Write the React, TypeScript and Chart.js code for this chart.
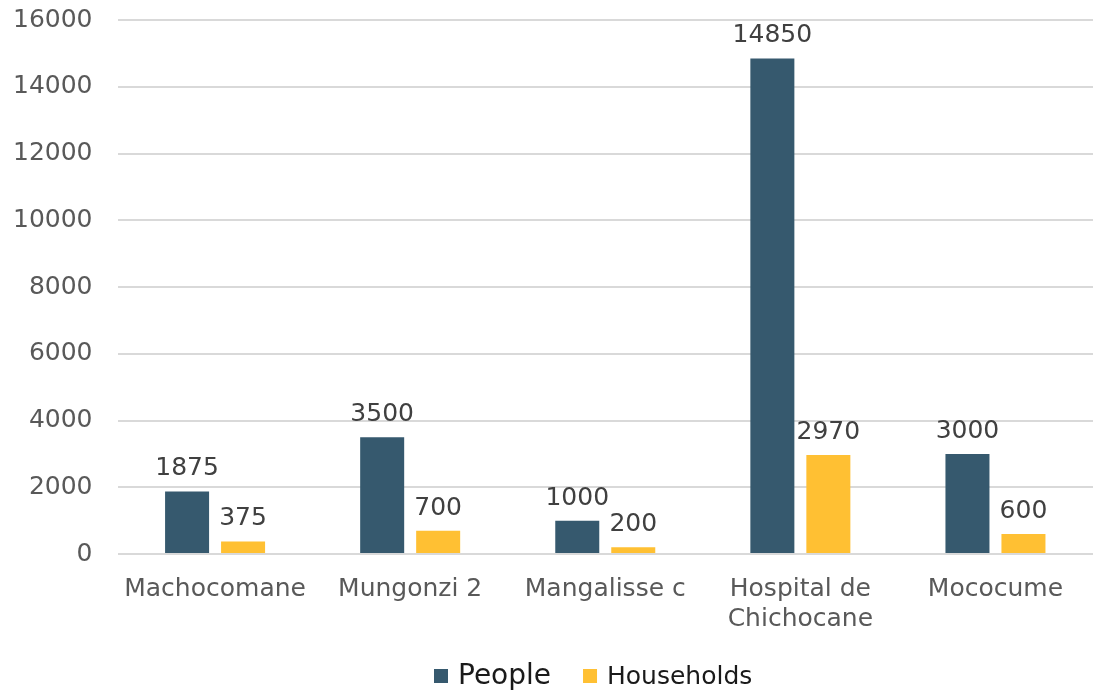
import React, { useEffect, useRef } from "react";
import { Chart, registerables } from "chart.js";

Chart.register(...registerables);

const categories: (string | string[])[] = [
  "Machocomane",
  "Mungonzi 2",
  "Mangalisse c",
  ["Hospital de", "Chichocane"],
  "Mococume",
];
const people = [1875, 3500, 1000, 14850, 3000];
const households = [375, 700, 200, 2970, 600];
const seriesNames = ["People", "Households"];
const colors = ["#36596E", "#FFC033"];
const legendFontSizes = [28, 25];

const FONT = "'DejaVu Sans', Verdana, sans-serif";
const SHIFT_X = 25;
const SHIFT_Y = 20;
const W = 1095;
const H = 694;

const valueLabels = {
  id: "valueLabels",
  afterDatasetsDraw(chart: any) {
    const ctx = chart.ctx;
    ctx.save();
    ctx.font = `25px ${FONT}`;
    ctx.fillStyle = "#404040";
    ctx.textAlign = "center";
    ctx.textBaseline = "alphabetic";
    chart.data.datasets.forEach((ds: any, di: number) => {
      const meta = chart.getDatasetMeta(di);
      meta.data.forEach((bar: any, i: number) => {
        ctx.fillText(String(ds.data[i]), bar.x, bar.y - 16);
      });
    });
    ctx.restore();
  },
};

const customLegend = {
  id: "customLegend",
  afterDraw(chart: any) {
    const ctx = chart.ctx;
    ctx.save();
    const box = 14;
    const gapBoxText = 10;
    const gapItems = 32;
    let x = 434 + SHIFT_X;
    const cy = 676 + SHIFT_Y;
    chart.data.datasets.forEach((ds: any, i: number) => {
      ctx.fillStyle = ds.backgroundColor;
      ctx.fillRect(x, cy - box / 2, box, box);
      ctx.font = `${legendFontSizes[i]}px ${FONT}`;
      ctx.fillStyle = "#1a1a1a";
      ctx.textAlign = "left";
      ctx.textBaseline = "middle";
      ctx.fillText(ds.label, x + box + gapBoxText, cy + 1);
      x += box + gapBoxText + ctx.measureText(ds.label).width + gapItems;
    });
    ctx.restore();
  },
};

export default function App() {
  const ref = useRef<HTMLCanvasElement>(null);
  useEffect(() => {
    document.body.style.margin = "0";
    const chart = new Chart(ref.current!, {
      type: "bar",
      data: {
        labels: categories,
        datasets: [
          { label: seriesNames[0], data: people, backgroundColor: colors[0] },
          { label: seriesNames[1], data: households, backgroundColor: colors[1] },
        ],
      },
      options: {
        animation: false,
        responsive: false,
        layout: { padding: { left: 13, right: 2, top: 0, bottom: 48 } },
        datasets: {
          bar: { categoryPercentage: 0.574, barPercentage: 0.786 },
        } as any,
        scales: {
          x: {
            grid: { display: false },
            border: { display: false },
            ticks: {
              color: "#595959",
              font: { family: FONT, size: 25 },
              maxRotation: 0,
              autoSkip: false,
              padding: 12,
            },
          },
          y: {
            min: 0,
            max: 16000,
            grid: { color: "#d9d9d9", lineWidth: 2, drawTicks: false },
            border: { display: false },
            ticks: {
              stepSize: 2000,
              color: "#595959",
              font: { family: FONT, size: 25 },
              padding: 25,
              callback: (v: any) => String(v),
            },
          },
        },
        plugins: {
          legend: { display: false },
          tooltip: { enabled: false },
        },
      },
      plugins: [valueLabels, customLegend],
    });
    return () => chart.destroy();
  }, []);
  return (
    <div style={{ width: W, height: H, position: "relative", overflow: "hidden" }}>
      <canvas
        ref={ref}
        width={W + SHIFT_X}
        height={H + SHIFT_Y}
        style={{ position: "absolute", left: -SHIFT_X, top: -SHIFT_Y, width: W + SHIFT_X, height: H + SHIFT_Y }}
      />
    </div>
  );
}
